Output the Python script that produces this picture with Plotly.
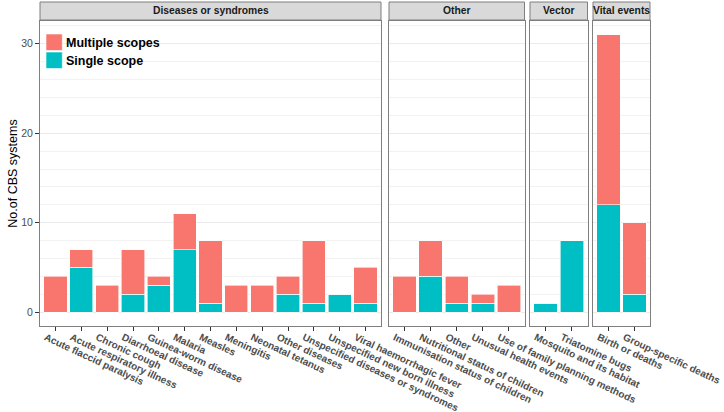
import plotly.graph_objects as go

# ---- data ----
panels = ["Diseases or syndromes", "Other", "Vector", "Vital events"]

dis_cats = ["Acute flaccid paralysis", "Acute respiratory illness", "Chronic cough",
            "Diarrhoeal disease", "Guinea-worm disease", "Malaria", "Measles",
            "Meningitis", "Neonatal tetanus", "Other diseases",
            "Unspecified diseases or syndromes", "Unspecified new born illness",
            "Viral haemorrhagic fever"]
dis_single = [0, 5, 0, 2, 3, 7, 1, 0, 0, 2, 1, 2, 1]
dis_multi = [4, 2, 3, 5, 1, 4, 7, 3, 3, 2, 7, 0, 4]

oth_cats = ["Immunisation status of children", "Nutritional status of children", "Other",
            "Unusual health events", "Use of family planning methods"]
oth_single = [0, 4, 1, 1, 0]
oth_multi = [4, 4, 3, 1, 3]

vec_cats = ["Mosquito and its habitat", "Triatomine bugs"]
vec_single = [1, 8]
vec_multi = [0, 0]

vit_cats = ["Birth or deaths", "Group-specific deaths"]
vit_single = [12, 2]
vit_multi = [19, 8]

y_ticks = [0, 10, 20, 30]
legend_names = ["Multiple scopes", "Single scope"]

groups = [
    (dis_cats, dis_single, dis_multi),
    (oth_cats, oth_single, oth_multi),
    (vec_cats, vec_single, vec_multi),
    (vit_cats, vit_single, vit_multi),
]

RED = "#F8766D"
TEAL = "#00BFC4"
FONT = "Liberation Sans, Arial, sans-serif"

# pixel layout
W, H = 724, 412
L, R, T, B = 40, 74, 21, 86
pw = W - L - R
ph = H - T - B
px_domains = [(40, 381), (389, 524.5), (530, 587.5), (593, 650)]
domains = [((a - L) / pw, (b - L) / pw) for a, b in px_domains]


def px_x(p):
    return (p - L) / pw


def px_y(p):
    return (H - B - p) / ph


fig = go.Figure()
for i, (cats, single, multi) in enumerate(groups):
    xa = "x" if i == 0 else f"x{i+1}"
    ya = "y" if i == 0 else f"y{i+1}"
    fig.add_trace(go.Bar(x=cats, y=single, name=legend_names[1], marker_color=TEAL,
                         marker_line=dict(color="white", width=0.6),
                         xaxis=xa, yaxis=ya, showlegend=False))
    fig.add_trace(go.Bar(x=cats, y=multi, name=legend_names[0], marker_color=RED,
                         marker_line=dict(color="white", width=0.6),
                         xaxis=xa, yaxis=ya, showlegend=False))

layout = dict(
    width=W, height=H,
    margin=dict(l=L, r=R, t=T, b=B, pad=0, autoexpand=False),
    barmode="stack", bargap=0.1,
    plot_bgcolor="white", paper_bgcolor="white",
    font=dict(family=FONT, color="#000000"),
    showlegend=False,
)

shapes = []
annotations = []
for i, (cats, single, multi) in enumerate(groups):
    xk = "xaxis" if i == 0 else f"xaxis{i+1}"
    yk = "yaxis" if i == 0 else f"yaxis{i+1}"
    xa = "x" if i == 0 else f"x{i+1}"
    ya = "y" if i == 0 else f"y{i+1}"
    n = len(cats)
    layout[xk] = dict(domain=list(domains[i]), anchor=ya, range=[-0.6, n - 0.4],
                      type="category", categoryorder="array", categoryarray=cats,
                      automargin=False,
                      showgrid=False, zeroline=False,
                      showline=True, mirror=True, linecolor="#7F7F7F", linewidth=1,
                      ticks="outside", ticklen=4, tickcolor="#333333", tickwidth=1,
                      tickangle=25, ticklabelshift=-10, ticklabelstandoff=-3,
                      tickfont=dict(size=10, color="#4D4D4D", weight="bold", family=FONT))
    ydict = dict(domain=[0, 1], anchor=xa, range=[-1.55, 32.55], automargin=False,
                 tickvals=y_ticks, showgrid=True, gridcolor="#EBEBEB", gridwidth=0.8,
                 zeroline=False,
                 minor=dict(dtick=2, tick0=0, showgrid=True, gridcolor="#F2F2F2", gridwidth=0.6),
                 showline=True, mirror=True, linecolor="#7F7F7F", linewidth=1)
    if i == 0:
        ydict.update(ticks="outside", ticklen=4, tickcolor="#333333", tickwidth=1,
                     tickfont=dict(size=10.5, color="#4D4D4D", family=FONT),
                     title=dict(text="No.of CBS systems", standoff=0,
                                font=dict(size=12.5, color="black", family=FONT)))
    else:
        ydict.update(matches="y", showticklabels=False, ticks="")
    layout[yk] = ydict

    # strip
    shapes.append(dict(type="rect", xref=f"{xa} domain", yref="paper",
                       x0=0, x1=1, y0=1 + 1 / ph, y1=1 + 19 / ph,
                       fillcolor="#D9D9D9", line=dict(color="#7F7F7F", width=1),
                       layer="above"))
    annotations.append(dict(text=panels[i], xref=f"{xa} domain", yref="paper",
                            x=0.5, y=1 + 10 / ph, showarrow=False,
                            xanchor="center", yanchor="middle",
                            font=dict(size=10.3, color="#1A1A1A", weight="bold", family=FONT)))

# legend (drawn inside the first panel, top-left)
leg_items = [(legend_names[0], RED, 34), (legend_names[1], TEAL, 52)]
for name, col, top in leg_items:
    shapes.append(dict(type="rect", xref="paper", yref="paper",
                       x0=px_x(46), x1=px_x(62.3), y0=px_y(top + 16.5), y1=px_y(top),
                       fillcolor=col, line=dict(color="white", width=0.6), layer="above"))
    annotations.append(dict(text=name, xref="paper", yref="paper",
                            x=px_x(63.5), y=px_y(top + 9), showarrow=False,
                            xanchor="left", yanchor="middle",
                            font=dict(size=12.5, color="black", weight="bold", family=FONT)))

layout["shapes"] = shapes
layout["annotations"] = annotations
fig.update_layout(**layout)

fig.write_html("out.html", config={"displayModeBar": False},
               post_script="document.body.style.margin='0';document.body.style.overflow='hidden';")
